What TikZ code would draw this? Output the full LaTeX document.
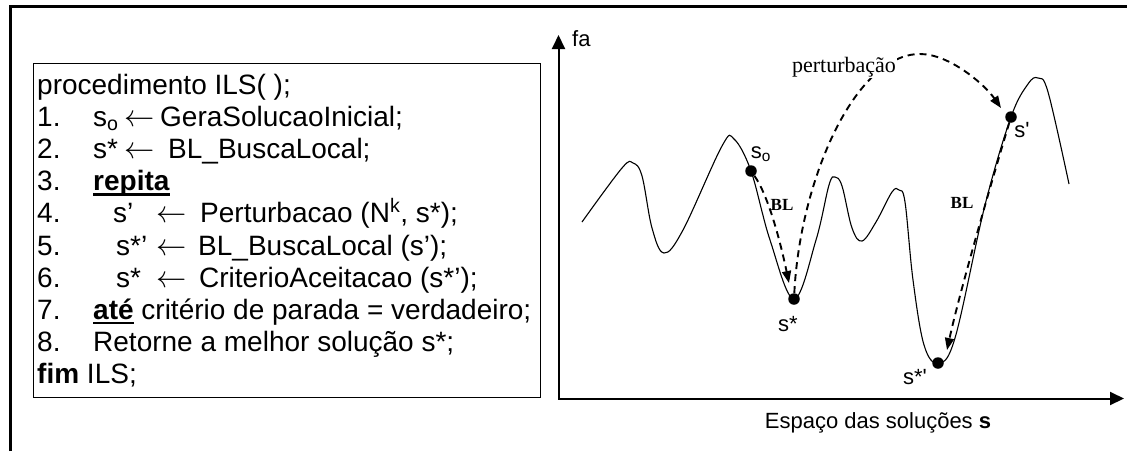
\RequirePackage{fix-cm}
\documentclass[tikz,border=0pt]{standalone}
\usepackage{fontspec}
\setmainfont{Liberation Sans}
\newfontfamily\timesf{Liberation Serif}
\usetikzlibrary{arrows.meta}
\newcommand\undl[1]{\setbox0=\hbox{#1}\rlap{\rule[-5pt]{\wd0}{2.4pt}}\box0\relax}
\newcommand\larr{\scalebox{1.08}[1.1]{$\leftarrow$}}
\begin{document}
\begin{tikzpicture}[x=1pt,y=-1pt,
  code/.style={anchor=base west, inner sep=0pt, font=\fontsize{28}{32}\selectfont},
  lbl/.style={inner sep=0pt, font=\fontsize{22}{26}\selectfont},
  bltxt/.style={inner sep=0pt, font=\fontsize{17}{19}\selectfont\timesf\bfseries},
  dot/.style={circle, fill=black, inner sep=0pt, minimum size=11.5pt},
  fcurve/.style={line width=1.1pt},
  dasharrow/.style={dash pattern=on 7pt off 5pt, line width=1.9pt, -{Triangle[length=12pt,width=9pt]}},
  axisline/.style={line width=2pt, {Triangle[length=14pt,width=13pt]}-{Triangle[length=14pt,width=13pt]}},
  framebox/.style={draw, line width=1.4pt, inner sep=0pt, anchor=north west}]
\useasboundingbox (0,0) rectangle (1127,451);
\fill[white] (0,0) rectangle (1127,451);
% outer frame
\draw[line width=2.6pt] (10.5,451) -- (10.5,6.5) -- (1127,6.5);
% code box
\node[framebox, minimum width=507pt, minimum height=334pt] (box) at (33,63) {};
\node[code] (t0) at (37,94) {procedimento ILS( );};
\node[code] (n1) at (37,126.2) {1.};
\node[code] (t1a) at (93,126.2) {s\textsubscript{o}};
\node[code] (t1b) at (124,126.2) {\larr};
\node[code] (t1c) at (160,126.2) {GeraSolucaoInicial;};
\node[code] (n2) at (37,158.4) {2.};
\node[code] (t2a) at (93,158.4) {s*};
\node[code] (t2b) at (124,158.4) {\larr};
\node[code] (t2c) at (168,158.4) {BL\_BuscaLocal;};
\node[code] (n3) at (37,190.6) {3.};
\node[code] (t3a) at (93,190.6) {\undl{\textbf{repita}}};
\node[code] (n4) at (37,222.8) {4.};
\node[code] (t4a) at (113,222.8) {s’};
\node[code] (t4b) at (156,222.8) {\larr};
\node[code] (t4c) at (200,222.8) {Perturbacao (N\textsuperscript{k}, s*);};
\node[code] (n5) at (37,255) {5.};
\node[code] (t5a) at (116,255) {s*’};
\node[code] (t5b) at (156,255) {\larr};
\node[code] (t5c) at (198,255) {BL\_BuscaLocal (s’);};
\node[code] (n6) at (37,287.2) {6.};
\node[code] (t6a) at (116,287.2) {s*};
\node[code] (t6b) at (156,287.2) {\larr};
\node[code] (t6c) at (199,287.2) {CriterioAceitacao (s*’);};
\node[code] (n7) at (37,319.4) {7.};
\node[code] (t7a) at (93,319.4) {\undl{\textbf{até}} critério de parada = verdadeiro;};
\node[code] (n8) at (37,351.6) {8.};
\node[code] (t8a) at (93,351.6) {Retorne a melhor solução s*;};
\node[code] (t9) at (37,383.8) {\textbf{fim} ILS;};
% axes
\coordinate (ytop) at (558.5,35);
\coordinate (orig) at (558.5,398.5);
\coordinate (xend) at (1124,398.5);
\draw[axisline] (ytop) -- (orig) -- (xend);
\node[lbl, anchor=base west] (fa) at (572,46) {fa};
\node[lbl, anchor=base] (xlab) at (878,428) {Espaço das soluções \textbf{s}};
% function curve
\draw[fcurve] plot[smooth, tension=0.6] coordinates {
 (582,222) (622,168) (633,163) (642,176) (652,228) (664,253) (683,230)
 (722,146) (734,139) (751,171)
 (770,240) (794,299) (816,240) (829,185) (835,177) (842,186) (852,228) (862,241)
 (876,222) (892,192) (899,190) (905,202) (913,280) (924,345) (938,363) (955,338) (985,205) (1011,117)
 (1028,84) (1038,78) (1048,92) (1069,184)};
% points
\node[dot] (so) at (751,171) {};
\node[dot] (ss) at (794,299) {};
\node[dot] (sp) at (1011,117) {};
\node[dot] (ssp) at (938,363) {};
\node[lbl] (lso) at (761,154) {s\textsubscript{o}};
\node[lbl] (lss) at (788,324) {s*};
\node[lbl] (lsp) at (1022,130) {s\textquotesingle};
\node[lbl] (lssp) at (915,377) {s*\textquotesingle};
% arrows
\coordinate (bl1end) at (789,283);
\coordinate (pertend) at (1001,108);
\coordinate (bl2end) at (947,350);
\draw[dasharrow] (so) .. controls (768,195) and (780,240) .. (bl1end);
\draw[dasharrow] (ss) .. controls (800,180) and (855,54) .. (920,54)
   .. controls (950,54) and (985,85) .. (pertend);
\draw[dasharrow] (sp) .. controls (995,170) and (960,290) .. (bl2end);
\node[bltxt] (bl1) at (782,205) {BL};
\node[bltxt] (bl2) at (962,203) {BL};
\node[inner sep=1pt, fill=white, anchor=base, font=\fontsize{22}{26}\selectfont\timesf] (pert) at (844,72) {perturbação};
\end{tikzpicture}
\end{document}
